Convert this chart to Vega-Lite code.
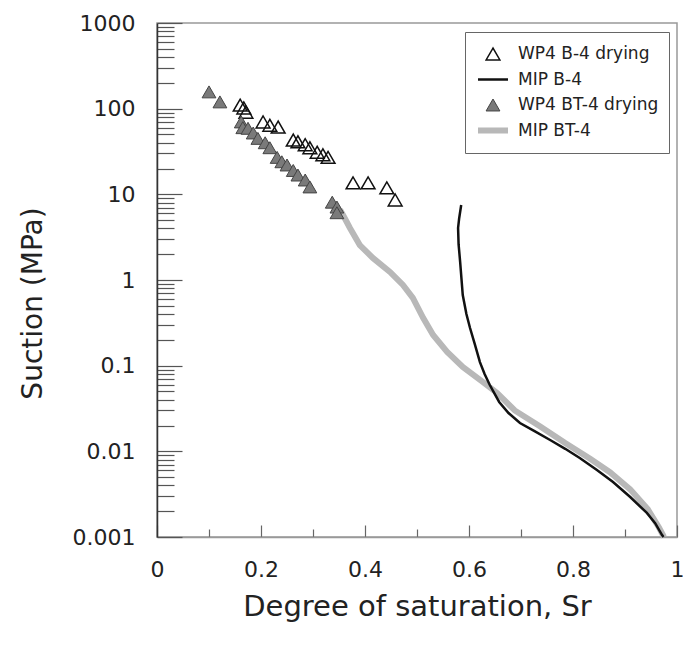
{
  "$schema": "https://vega.github.io/schema/vega-lite/v6.json",
  "width": 520,
  "height": 514,
  "autosize": {"type": "none"},
  "padding": {"left": 157, "top": 23, "right": 6, "bottom": 116},
  "config": {
    "view": {"stroke": "#999", "strokeWidth": 1.5},
    "font": "DejaVu Sans"
  },
  "encoding": {
    "x": {
      "field": "sr", "type": "quantitative",
      "scale": {"domain": [0, 1], "nice": false},
      "axis": {
        "values": [0, 0.1, 0.2, 0.3, 0.4, 0.5, 0.6, 0.7, 0.8, 0.9, 1],
        "labelExpr": "round(datum.value*10) % 2 == 0 ? format(datum.value, '~g') : ''",
        "labelFontSize": 22, "labelColor": "#222", "labelPadding": 22,
        "labelFlush": false, "labelOverlap": false,
        "tickSize": 0,
        "tickColor": "#666", "tickWidth": 1.2,
        "domainColor": "#999", "domainWidth": 1.5,
        "grid": false,
        "encoding": {
          "ticks": {"y2": {"value": {"expr": "round(datum.value*10) % 2 == 0 ? -12 : -8"}}}
        },
        "title": "Degree of saturation, Sr",
        "titleFontSize": 29, "titleFontWeight": "normal", "titleColor": "#222",
        "titleX": 260, "titleY": 69, "titleBaseline": "middle", "titleAlign": "center"
      }
    },
    "y": {
      "field": "suction", "type": "quantitative",
      "scale": {"type": "log", "domain": [0.001, 1000], "nice": false},
      "axis": {
        "values": [0.001, 0.002, 0.003, 0.004, 0.005, 0.006, 0.007, 0.008, 0.009,
                   0.01, 0.02, 0.03, 0.04, 0.05, 0.06, 0.07, 0.08, 0.09,
                   0.1, 0.2, 0.3, 0.4, 0.5, 0.6, 0.7, 0.8, 0.9,
                   1, 2, 3, 4, 5, 6, 7, 8, 9,
                   10, 20, 30, 40, 50, 60, 70, 80, 90,
                   100, 200, 300, 400, 500, 600, 700, 800, 900, 1000],
        "labelExpr": "abs(log(datum.value)/LN10 - round(log(datum.value)/LN10)) < 0.001 ? format(datum.value, '~g') : ''",
        "labelFontSize": 22, "labelColor": "#222", "labelPadding": 22,
        "labelFlush": false, "labelOverlap": false,
        "tickSize": 0,
        "tickColor": "#555", "tickWidth": 1.2,
        "domainColor": "#333", "domainWidth": 1.5,
        "grid": false,
        "encoding": {
          "ticks": {"x2": {"value": {"expr": "abs(log(datum.value)/LN10 - round(log(datum.value)/LN10)) < 0.001 ? 25 : 17"}}}
        },
        "title": "Suction (MPa)",
        "titleFontSize": 28, "titleFontWeight": "normal", "titleColor": "#222",
        "titleX": -124, "titleY": 280, "titleBaseline": "middle", "titleAlign": "center", "titleAngle": -90
      }
    },
    "stroke": {
      "field": "series", "type": "nominal",
      "scale": {
        "domain": ["WP4 B-4 drying", "MIP B-4", "WP4 BT-4 drying", "MIP BT-4"],
        "range": ["#111111", "#111111", "#444444", "#b8b8b8"]
      },
      "legend": {
        "orient": "none", "legendX": 308, "legendY": 9,
        "title": null,
        "padding": 10,
        "strokeColor": "#666", "fillColor": "white",
        "labelFont": "DejaVu Sans", "labelFontSize": 17, "labelColor": "#222",
        "labelOffset": 7, "rowPadding": 1.5, "clipHeight": 24,
        "symbolOpacity": 1
      }
    },
    "strokeWidth": {
      "field": "series", "type": "nominal",
      "scale": {
        "type": "ordinal",
        "domain": ["WP4 B-4 drying", "MIP B-4", "WP4 BT-4 drying", "MIP BT-4"],
        "range": [1.5, 2.5, 1, 6]
      }
    }
  },
  "layer": [
    {
      "data": {"values": [
        {"series": "MIP BT-4", "sr": 0.352, "suction": 6.6},
        {"series": "MIP BT-4", "sr": 0.358, "suction": 5.7},
        {"series": "MIP BT-4", "sr": 0.371, "suction": 4.05},
        {"series": "MIP BT-4", "sr": 0.390, "suction": 2.56},
        {"series": "MIP BT-4", "sr": 0.415, "suction": 1.81},
        {"series": "MIP BT-4", "sr": 0.448, "suction": 1.24},
        {"series": "MIP BT-4", "sr": 0.473, "suction": 0.875},
        {"series": "MIP BT-4", "sr": 0.492, "suction": 0.617},
        {"series": "MIP BT-4", "sr": 0.512, "suction": 0.36},
        {"series": "MIP BT-4", "sr": 0.531, "suction": 0.228},
        {"series": "MIP BT-4", "sr": 0.558, "suction": 0.145},
        {"series": "MIP BT-4", "sr": 0.588, "suction": 0.0966},
        {"series": "MIP BT-4", "sr": 0.627, "suction": 0.0644},
        {"series": "MIP BT-4", "sr": 0.654, "suction": 0.0480},
        {"series": "MIP BT-4", "sr": 0.688, "suction": 0.030},
        {"series": "MIP BT-4", "sr": 0.737, "suction": 0.0195},
        {"series": "MIP BT-4", "sr": 0.785, "suction": 0.0125},
        {"series": "MIP BT-4", "sr": 0.833, "suction": 0.0082},
        {"series": "MIP BT-4", "sr": 0.871, "suction": 0.0057},
        {"series": "MIP BT-4", "sr": 0.910, "suction": 0.0036},
        {"series": "MIP BT-4", "sr": 0.944, "suction": 0.0021},
        {"series": "MIP BT-4", "sr": 0.965, "suction": 0.0013},
        {"series": "MIP BT-4", "sr": 0.975, "suction": 0.001}
      ]},
      "mark": {"type": "line", "strokeCap": "butt"},
      "encoding": {"order": {"field": "suction", "type": "quantitative", "sort": "descending"}}
    },
    {
      "data": {"values": [
        {"series": "MIP B-4", "sr": 0.585, "suction": 7.5},
        {"series": "MIP B-4", "sr": 0.581, "suction": 5.2},
        {"series": "MIP B-4", "sr": 0.579, "suction": 4.05},
        {"series": "MIP B-4", "sr": 0.580, "suction": 2.6},
        {"series": "MIP B-4", "sr": 0.583, "suction": 1.62},
        {"series": "MIP B-4", "sr": 0.588, "suction": 0.668},
        {"series": "MIP B-4", "sr": 0.595, "suction": 0.4},
        {"series": "MIP B-4", "sr": 0.602, "suction": 0.275},
        {"series": "MIP B-4", "sr": 0.611, "suction": 0.18},
        {"series": "MIP B-4", "sr": 0.621, "suction": 0.110},
        {"series": "MIP B-4", "sr": 0.630, "suction": 0.08},
        {"series": "MIP B-4", "sr": 0.640, "suction": 0.0594},
        {"series": "MIP B-4", "sr": 0.658, "suction": 0.0377},
        {"series": "MIP B-4", "sr": 0.676, "suction": 0.028},
        {"series": "MIP B-4", "sr": 0.698, "suction": 0.0214},
        {"series": "MIP B-4", "sr": 0.726, "suction": 0.0172},
        {"series": "MIP B-4", "sr": 0.756, "suction": 0.01356},
        {"series": "MIP B-4", "sr": 0.785, "suction": 0.0107},
        {"series": "MIP B-4", "sr": 0.813, "suction": 0.00836},
        {"series": "MIP B-4", "sr": 0.846, "suction": 0.00605},
        {"series": "MIP B-4", "sr": 0.877, "suction": 0.00439},
        {"series": "MIP B-4", "sr": 0.910, "suction": 0.00293},
        {"series": "MIP B-4", "sr": 0.942, "suction": 0.00191},
        {"series": "MIP B-4", "sr": 0.958, "suction": 0.00145},
        {"series": "MIP B-4", "sr": 0.971, "suction": 0.00106},
        {"series": "MIP B-4", "sr": 0.974, "suction": 0.001}
      ]},
      "mark": {"type": "line"},
      "encoding": {"order": {"field": "suction", "type": "quantitative", "sort": "descending"}}
    },
    {
      "data": {"values": [
        {"series": "WP4 B-4 drying", "sr": 0.160, "suction": 110},
        {"series": "WP4 B-4 drying", "sr": 0.167, "suction": 102},
        {"series": "WP4 B-4 drying", "sr": 0.171, "suction": 91},
        {"series": "WP4 B-4 drying", "sr": 0.204, "suction": 70},
        {"series": "WP4 B-4 drying", "sr": 0.217, "suction": 64},
        {"series": "WP4 B-4 drying", "sr": 0.233, "suction": 61},
        {"series": "WP4 B-4 drying", "sr": 0.262, "suction": 43},
        {"series": "WP4 B-4 drying", "sr": 0.271, "suction": 41},
        {"series": "WP4 B-4 drying", "sr": 0.285, "suction": 38},
        {"series": "WP4 B-4 drying", "sr": 0.294, "suction": 35},
        {"series": "WP4 B-4 drying", "sr": 0.308, "suction": 31},
        {"series": "WP4 B-4 drying", "sr": 0.319, "suction": 29},
        {"series": "WP4 B-4 drying", "sr": 0.329, "suction": 27},
        {"series": "WP4 B-4 drying", "sr": 0.377, "suction": 13.6},
        {"series": "WP4 B-4 drying", "sr": 0.406, "suction": 13.6},
        {"series": "WP4 B-4 drying", "sr": 0.442, "suction": 11.9},
        {"series": "WP4 B-4 drying", "sr": 0.458, "suction": 8.6}
      ]},
      "mark": {"type": "point", "shape": "triangle-up", "filled": false, "opacity": 1},
      "encoding": {
        "shape": {
          "field": "series", "type": "nominal",
          "scale": {
            "domain": ["WP4 B-4 drying", "MIP B-4", "WP4 BT-4 drying", "MIP BT-4"],
            "range": ["triangle-up", "stroke", "triangle-up", "stroke"]
          }
        },
        "size": {
          "field": "series", "type": "nominal",
          "scale": {
            "type": "ordinal",
            "domain": ["WP4 B-4 drying", "MIP B-4", "WP4 BT-4 drying", "MIP BT-4"],
            "range": [190, 900, 190, 900]
          }
        }
      }
    },
    {
      "data": {"values": [
        {"series": "WP4 BT-4 drying", "sr": 0.100, "suction": 157},
        {"series": "WP4 BT-4 drying", "sr": 0.121, "suction": 120},
        {"series": "WP4 BT-4 drying", "sr": 0.162, "suction": 70},
        {"series": "WP4 BT-4 drying", "sr": 0.165, "suction": 60},
        {"series": "WP4 BT-4 drying", "sr": 0.175, "suction": 59},
        {"series": "WP4 BT-4 drying", "sr": 0.185, "suction": 52},
        {"series": "WP4 BT-4 drying", "sr": 0.194, "suction": 45},
        {"series": "WP4 BT-4 drying", "sr": 0.208, "suction": 40},
        {"series": "WP4 BT-4 drying", "sr": 0.217, "suction": 35},
        {"series": "WP4 BT-4 drying", "sr": 0.231, "suction": 27},
        {"series": "WP4 BT-4 drying", "sr": 0.240, "suction": 24},
        {"series": "WP4 BT-4 drying", "sr": 0.250, "suction": 22},
        {"series": "WP4 BT-4 drying", "sr": 0.262, "suction": 19},
        {"series": "WP4 BT-4 drying", "sr": 0.271, "suction": 16.8},
        {"series": "WP4 BT-4 drying", "sr": 0.285, "suction": 14.7},
        {"series": "WP4 BT-4 drying", "sr": 0.294, "suction": 12.2},
        {"series": "WP4 BT-4 drying", "sr": 0.337, "suction": 8.1},
        {"series": "WP4 BT-4 drying", "sr": 0.346, "suction": 7.1},
        {"series": "WP4 BT-4 drying", "sr": 0.346, "suction": 6.1}
      ]},
      "mark": {"type": "point", "shape": "triangle-up", "filled": true, "opacity": 1},
      "encoding": {
        "fill": {
          "field": "series", "type": "nominal",
          "scale": {
            "domain": ["WP4 B-4 drying", "MIP B-4", "WP4 BT-4 drying", "MIP BT-4"],
            "range": ["transparent", "transparent", "#7a7a7a", "transparent"]
          }
        },
        "shape": {
          "field": "series", "type": "nominal",
          "scale": {
            "domain": ["WP4 B-4 drying", "MIP B-4", "WP4 BT-4 drying", "MIP BT-4"],
            "range": ["triangle-up", "stroke", "triangle-up", "stroke"]
          }
        },
        "size": {
          "field": "series", "type": "nominal",
          "scale": {
            "type": "ordinal",
            "domain": ["WP4 B-4 drying", "MIP B-4", "WP4 BT-4 drying", "MIP BT-4"],
            "range": [190, 900, 190, 900]
          }
        }
      }
    }
  ]
}
